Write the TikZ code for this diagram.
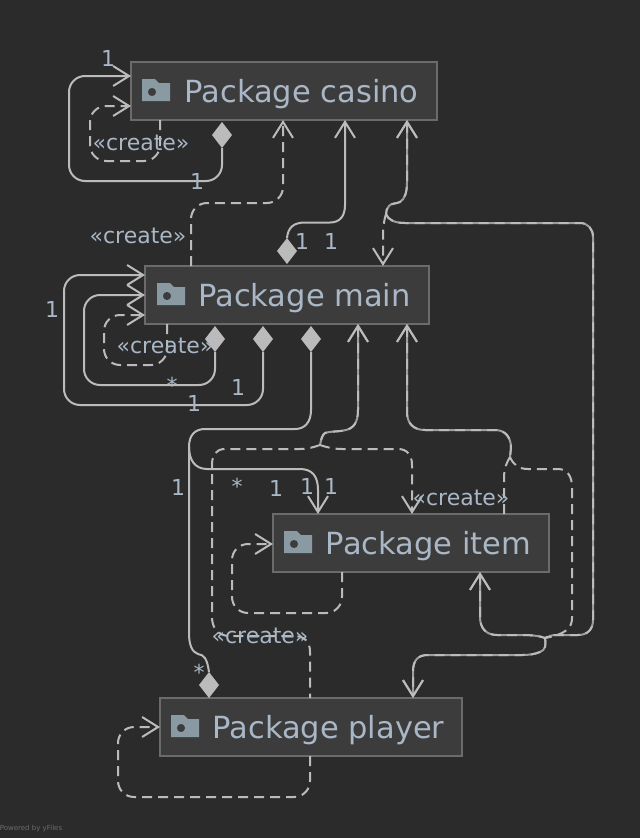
\documentclass[tikz,border=0pt]{standalone}
\usepackage{fontspec}
\setmainfont{DejaVu Sans}
\usetikzlibrary{arrows.meta,shapes.geometric,calc}
\definecolor{bgc}{HTML}{2B2B2B}
\definecolor{boxc}{HTML}{3C3C3C}
\definecolor{edgec}{HTML}{6B6B6B}
\definecolor{txtc}{HTML}{A9B7C6}
\definecolor{linec}{HTML}{BBBBBB}
\definecolor{iconc}{HTML}{8A9AA3}
\newcommand{\pkgtext}[1]{\hspace*{35pt}\raisebox{-11.5pt}[0pt][0pt]{#1}}
\tikzset{
  pkg/.style={draw=edgec,fill=boxc,line width=2pt,minimum height=58pt,inner sep=0pt,outer sep=0pt,text=txtc,font=\fontsize{30.5}{36}\selectfont},
  dia/.style={diamond,fill=linec,inner sep=0pt,outer sep=0pt,minimum width=20pt,minimum height=26pt,aspect=0.77},
  conn/.style={draw=linec,line width=2pt,rounded corners=16pt},
  curvy/.style={draw=linec,line width=2pt,sharp corners},
  under/.style={curvy,draw=linec!80!bgc},
  dsh/.style={dash pattern=on 10pt off 6pt},
  arrowto/.style={-{Straight Barb[length=16pt,width=20pt,line width=2pt]}},
  arrowfrom/.style={{Straight Barb[length=16pt,width=20pt,line width=2pt]}-},
  lab/.style={text=txtc,inner sep=0pt,font=\fontsize{22}{26}\selectfont},
  folder/.pic={\fill[iconc,even odd rule] (-14,-11) -- (-1,-11) -- (3,-7) -- (14,-7) -- (14,11) -- (-14,11) -- cycle (-4,2) circle[radius=4.2];}
}
\begin{document}
\begin{tikzpicture}[x=1pt,y=-1pt]
\useasboundingbox (0,0) rectangle (640,838);
\fill[bgc] (0,0) rectangle (640,838);
% packages
\node[pkg,minimum width=306pt] (casino) at (284,91) {\pkgtext{Package casino}};
\node[pkg,minimum width=284pt] (main) at (287,295) {\pkgtext{Package main}};
\node[pkg,minimum width=276pt] (item) at (411,543) {\pkgtext{Package item}};
\node[pkg,minimum width=302pt] (player) at (311,727) {\pkgtext{Package player}};
\pic at (156,90) {folder};
\pic at (171,294) {folder};
\pic at (298,542) {folder};
\pic at (185,726) {folder};
% diamonds
\node[dia] (d1) at (222,135) {};
\node[dia] (d2) at (287,251) {};
\node[dia] (d3) at (215,339) {};
\node[dia] (d4) at (263,339) {};
\node[dia] (d5) at (311,339) {};
\node[dia] (d6) at (209,685) {};
% junction points
\coordinate (ja) at (386,214);
\coordinate (jb) at (545,638);
\coordinate (jc) at (320,445);
\coordinate (jd) at (510,457);
\coordinate (je) at (189,447);
% casino loops
\draw[conn,arrowto] (d1.south) -- (222,181) -- (69,181) -- (69,76) -- (casino.west |- 0,76);
\draw[conn,dsh,arrowto] (casino.south -| 160,0) -- (160,161) -- (90,161) -- (90,106) -- (casino.west |- 0,106);
% main to casino
\draw[conn,dsh,arrowto] (main.north -| 191,0) -- (191,203) -- (283,203) -- (casino.south -| 283,0);
\draw[curvy,arrowto] (d2.north) .. controls (288,228) and (293,222.5) .. (305,222.5) -- (330,222.5) .. controls (340,222.5) and (345,216) .. (345,205) -- (casino.south -| 345,0);
% main loops
\draw[conn,arrowto] (d4.south) -- (263,405) -- (64,405) -- (64,275) -- (main.west |- 0,275);
\draw[conn,arrowto] (d3.south) -- (215,385) -- (84,385) -- (84,295) -- (main.west |- 0,295);
\draw[conn,dsh,arrowto] (main.south -| 167,0) -- (167,365) -- (104,365) -- (104,315) -- (main.west |- 0,315);
% right hand bundle
\foreach \st/\ex in {under/,curvy/dsh}{
  \draw[\st,\ex,arrowfrom] (casino.south -| 407,0) -- (407,182) .. controls (407,192) and (405,199) .. (400,202) .. controls (396,204) and (391,203) .. (389,206) .. controls (387,208) and (386,211) .. (ja);
  \draw[\st,\ex] (ja) .. controls (388,220) and (395,223) .. (405,223) -- (580,223) .. controls (588,223) and (593,229) .. (593,237) -- (593,620) .. controls (593,629) and (588,635) .. (578,635) -- (555,635) .. controls (551,635) and (548,637) .. (jb);
  \draw[\st,\ex,arrowfrom] (item.south -| 480,0) -- (480,617) .. controls (480,628) and (486,635) .. (497,635) -- (522,635) .. controls (532,635) and (540,636) .. (jb);
  \draw[\st,\ex,arrowto] (jb) .. controls (546,644) and (546,650) .. (540,652) .. controls (535,654) and (530,655) .. (522,655) -- (428,655) .. controls (418,655) and (413,660) .. (413,672) -- (player.north -| 413,0);
  \draw[\st,\ex,arrowfrom] (main.south -| 358,0) -- (358,410) .. controls (358,422) and (354,428) .. (346,430) .. controls (338,432) and (330,431) .. (325,433) .. controls (322,435) and (321,440) .. (jc);
  \draw[\st,\ex,arrowfrom] (main.south -| 407,0) -- (407,412) .. controls (407,423) and (413,430) .. (425,430) -- (495,430) .. controls (506,430) and (511,438) .. (511,448) -- (jd);
}
\draw[curvy,dsh,arrowto] (ja) .. controls (384,220) and (383,228) .. (383,235) -- (main.north -| 383,0);
\draw[curvy,dsh] (jc) .. controls (314,447) and (308,449) .. (300,449) -- (225,449) .. controls (216,449) and (212,455) .. (212,465) -- (212,617) .. controls (212,628) and (218,635) .. (228,636) -- (296,636) .. controls (305,637) and (310,642) .. (310,652) -- (player.north -| 310,0);
\draw[curvy,dsh,arrowto] (jc) .. controls (326,447) and (333,449) .. (342,449) -- (398,449) .. controls (407,449) and (412,455) .. (412,465) -- (item.north -| 412,0);
\draw[curvy,dsh] (item.north -| 504,0) -- (504,478) .. controls (504,468) and (507,462) .. (jd);
\draw[curvy,dsh] (jd) .. controls (513,464) and (518,469) .. (528,469) -- (558,469) .. controls (567,469) and (572,476) .. (572,487) -- (572,618) .. controls (572,628) and (566,634) .. (jb);
% diamond 5
\draw[curvy] (d5.south) -- (311,410) .. controls (311,422) and (305,429) .. (295,429) -- (205,429) .. controls (195,429) and (189,435) .. (je);
\draw[curvy] (je) -- (189,633) .. controls (189,645) and (192,652) .. (198,654) .. controls (204,655) and (207,658) .. (d6.north);
\draw[curvy,arrowto] (je) .. controls (189,460) and (195,469) .. (207,469) -- (300,469) .. controls (312,469) and (318,476) .. (318,490) -- (item.north -| 318,0);
% item and player loops
\draw[conn,dsh,arrowto] (item.south -| 342,0) -- (342,613) -- (232,613) -- (232,544) -- (item.west |- 0,544);
\draw[conn,dsh,arrowto] (player.south -| 310,0) -- (310,797) -- (118,797) -- (118,727) -- (player.west |- 0,727);
% labels
\node[lab] (l1) at (108,58) {1};
\node[lab] (l2) at (141,143) {«create»};
\node[lab] (l3) at (197,181) {1};
\node[lab] (l4) at (138,236) {«create»};
\node[lab] (l5) at (302,241) {1};
\node[lab] (l6) at (331,241) {1};
\node[lab] (l7) at (52,309) {1};
\node[lab] (l8) at (165,346) {«create»};
\node[lab] (l9) at (172,385) {*};
\node[lab] (l10) at (238,387) {1};
\node[lab] (l11) at (194,403) {1};
\node[lab] (l12) at (178,487) {1};
\node[lab] (l13) at (237,486) {*};
\node[lab] (l14) at (276,488) {1};
\node[lab] (l15) at (307,486) {1};
\node[lab] (l16) at (331,486) {1};
\node[lab] (l17) at (461,498) {«create»};
\node[lab] (l18) at (260,636) {«create»};
\node[lab] (l19) at (199,672) {*};
\node[text=edgec,inner sep=0pt,font=\fontsize{7}{8}\selectfont] (yf) at (31,829) {Powered by yFiles};
\end{tikzpicture}
\end{document}
